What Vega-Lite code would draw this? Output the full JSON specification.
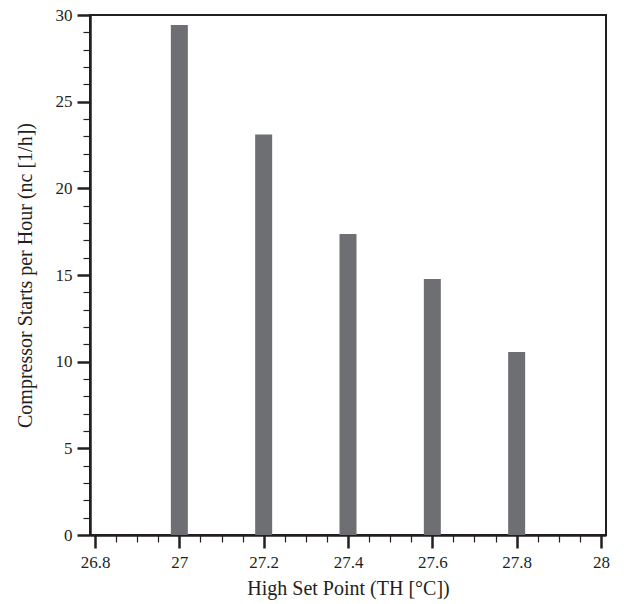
{
  "$schema": "https://vega.github.io/schema/vega-lite/v6.json",
  "width": 516,
  "height": 520,
  "autosize": {"type": "none"},
  "padding": {"left": 90, "top": 15, "right": 24, "bottom": 69},
  "background": "white",
  "view": {"stroke": "#231f20", "strokeWidth": 2},
  "data": {
    "values": [
      {"T": 27.0, "n": 29.43},
      {"T": 27.2, "n": 23.1},
      {"T": 27.4, "n": 17.37},
      {"T": 27.6, "n": 14.77},
      {"T": 27.8, "n": 10.56}
    ]
  },
  "mark": {"type": "bar", "size": 17, "color": "#6e6f72"},
  "encoding": {
    "x": {
      "field": "T",
      "type": "quantitative",
      "scale": {"domain": [26.8, 28], "nice": false, "zero": false},
      "axis": {
        "grid": false,
        "domainColor": "#231f20",
        "domainWidth": 2.5,
        "tickColor": "#231f20",
        "values": [26.8, 26.85, 26.9, 26.95, 27, 27.05, 27.1, 27.15, 27.2, 27.25, 27.3, 27.35, 27.4, 27.45, 27.5, 27.55, 27.6, 27.65, 27.7, 27.75, 27.8, 27.85, 27.9, 27.95, 28],
        "labelExpr": "abs(datum.value*5 - round(datum.value*5)) < 0.001 ? format(datum.value, '~g') : ''",
        "tickSize": {"condition": {"test": "abs(datum.value*5 - round(datum.value*5)) < 0.001", "value": 13}, "value": 7},
        "tickWidth": {"condition": {"test": "abs(datum.value*5 - round(datum.value*5)) < 0.001", "value": 2.5}, "value": 1.2},
        "labelFont": "Liberation Serif",
        "labelFontSize": 17,
        "labelColor": "#231f20",
        "labelPadding": 6,
        "labelOverlap": false,
        "labelFlush": false,
        "title": "High Set Point (TH [°C])",
        "titleFont": "Liberation Serif",
        "titleFontSize": 20,
        "titleFontWeight": "normal",
        "titleColor": "#231f20",
        "titlePadding": 8
      }
    },
    "y": {
      "field": "n",
      "type": "quantitative",
      "scale": {"domain": [0, 30], "nice": false},
      "axis": {
        "grid": false,
        "domainColor": "#231f20",
        "domainWidth": 2.5,
        "tickColor": "#231f20",
        "values": [0, 1, 2, 3, 4, 5, 6, 7, 8, 9, 10, 11, 12, 13, 14, 15, 16, 17, 18, 19, 20, 21, 22, 23, 24, 25, 26, 27, 28, 29, 30],
        "labelExpr": "datum.value % 5 === 0 ? format(datum.value, 'd') : ''",
        "tickSize": {"condition": {"test": "datum.value % 5 === 0", "value": 13}, "value": 7},
        "tickWidth": {"condition": {"test": "datum.value % 5 === 0", "value": 2.5}, "value": 1.2},
        "labelFont": "Liberation Serif",
        "labelFontSize": 17,
        "labelColor": "#231f20",
        "labelPadding": 5,
        "labelOverlap": false,
        "labelFlush": false,
        "title": "Compressor Starts per Hour (nc [1/h])",
        "titleFont": "Liberation Serif",
        "titleFontSize": 20,
        "titleFontWeight": "normal",
        "titleColor": "#231f20",
        "titlePadding": 20
      }
    }
  }
}
